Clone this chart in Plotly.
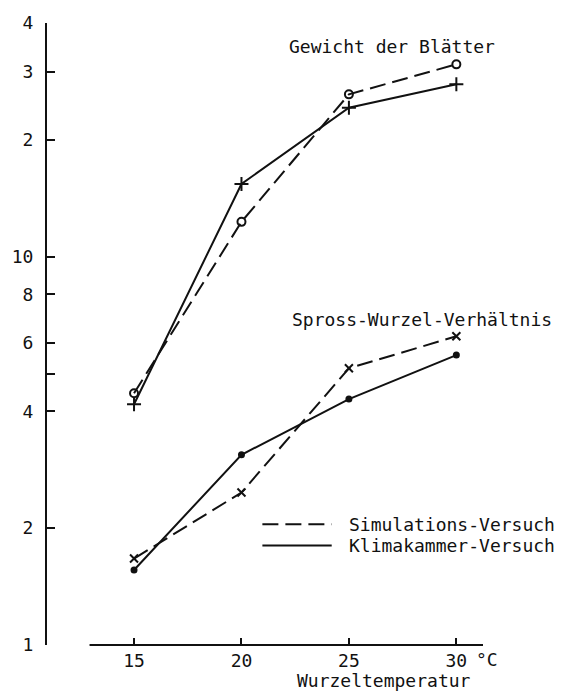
import plotly.graph_objects as go

# ---- data ----
temperature = [15, 20, 25, 30]
blatt_simulation = [4.45, 12.3, 26.2, 31.3]      # open circles, dashed
blatt_klimakammer = [4.17, 15.4, 24.2, 27.8]     # plus, solid
ratio_simulation = [1.67, 2.47, 5.16, 6.24]      # x marks, dashed
ratio_klimakammer = [1.56, 3.09, 4.30, 5.58]     # dots, solid

y_tickvals = [1, 2, 4, 5, 6, 8, 10, 20, 30, 40]
y_ticktext = ["1", "2", "4", "", "6", "8", "10", "2", "3", "4"]
x_tickvals = [15, 20, 25, 30]
x_ticktext = ["15", "20", "25", "30"]

FONT = "DejaVu Sans Mono"
BLACK = "#111111"
DASH = "16px,7px"

fig = go.Figure()

def add(y, dash, symbol, size, width=2):
    fig.add_trace(go.Scatter(
        x=temperature, y=y, mode="lines+markers",
        line=dict(color=BLACK, width=width, dash=dash),
        marker=dict(symbol=symbol, size=size, color=BLACK,
                    line=dict(color=BLACK, width=2)),
        cliponaxis=False, showlegend=False))

add(blatt_simulation, DASH, "circle-open", 8)
add(blatt_klimakammer, "solid", "cross-thin-open", 10)
add(ratio_simulation, DASH, "x-thin-open", 8)
add(ratio_klimakammer, "solid", "circle", 5)

# plot area: left 42, right 483, top 20, bottom 645 (px)
x_lo, x_hi = 10.95, 31.24
fig.update_layout(
    width=580, height=692,
    margin=dict(l=42, r=97, t=20, b=47),
    paper_bgcolor="white", plot_bgcolor="white",
    font=dict(family=FONT, size=18, color=BLACK),
    showlegend=False,
    xaxis=dict(range=[x_lo, x_hi], showline=False, showgrid=False, zeroline=False,
               ticks="inside", ticklen=7, tickwidth=2, tickcolor=BLACK,
               tickvals=x_tickvals, ticktext=x_ticktext,
               ticklabelstandoff=3, tickfont=dict(family=FONT, size=18)),
    yaxis=dict(type="log", range=[0, 1.60206], showline=True, linewidth=2,
               linecolor=BLACK, showgrid=False, zeroline=False,
               ticks="inside", ticklen=8, tickwidth=2, tickcolor=BLACK,
               tickvals=y_tickvals, ticktext=y_ticktext,
               ticklabelstandoff=8, tickfont=dict(family=FONT, size=18)),
)

# x axis line (starts away from the y axis, as in the original)
fig.add_shape(type="line", xref="x", yref="paper", x0=12.93, x1=x_hi, y0=0, y1=0,
              line=dict(color=BLACK, width=2))

# labels
fig.add_annotation(text="Gewicht der Blätter", xref="paper", yref="paper",
                   x=0.551, y=0.963, xanchor="left", yanchor="middle",
                   showarrow=False, font=dict(family=FONT, size=18))
fig.add_annotation(text="Spross-Wurzel-Verhältnis", xref="paper", yref="paper",
                   x=0.558, y=0.523, xanchor="left", yanchor="middle",
                   showarrow=False, font=dict(family=FONT, size=18))
fig.add_annotation(text="°C", xref="paper", yref="paper",
                   x=1.009, y=-0.024, xanchor="center", yanchor="middle",
                   showarrow=False, font=dict(family=FONT, size=18))
fig.add_annotation(text="Wurzeltemperatur", xref="paper", yref="paper",
                   x=0.772, y=-0.057, xanchor="center", yanchor="middle",
                   showarrow=False, font=dict(family=FONT, size=18))

# legend (drawn manually to reproduce long line samples)
legend_items = [("Simulations-Versuch", DASH, 0.194),
                ("Klimakammer-Versuch", "solid", 0.160)]
for label, dash, yp in legend_items:
    fig.add_shape(type="line", xref="paper", yref="paper", x0=0.494, x1=0.653,
                  y0=yp, y1=yp, line=dict(color=BLACK, width=2, dash=dash))
    fig.add_annotation(text=label, xref="paper", yref="paper", x=0.687, y=yp,
                       xanchor="left", yanchor="middle", showarrow=False,
                       font=dict(family=FONT, size=18))

fig.write_html("out.html", config={"displayModeBar": False},
               post_script="document.body.style.margin='0';document.body.style.overflow='hidden';")
